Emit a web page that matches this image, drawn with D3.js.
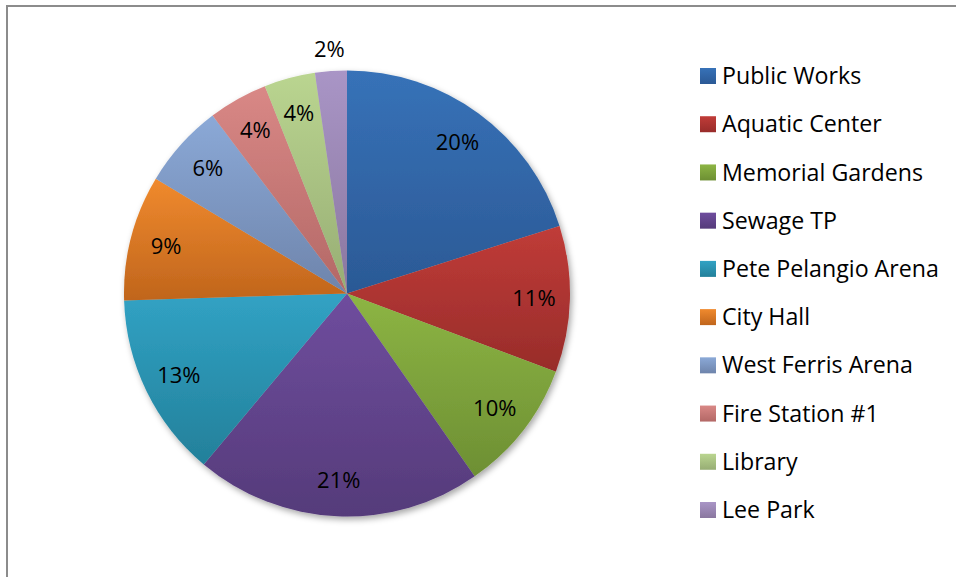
<!DOCTYPE html>
<html>
<head>
<meta charset="utf-8">
<script src="https://cdn.jsdelivr.net/npm/d3@7"></script>
<style>
  html, body { margin: 0; padding: 0; background: #fff; }
  svg { display: block; }
  text { font-family: "Open Sans", "Noto Sans", sans-serif; fill: #000; }
</style>
</head>
<body>
<svg id="chart" width="956" height="577"></svg>
<script>
// ---- data ----
const categories = ["Public Works", "Aquatic Center", "Memorial Gardens", "Sewage TP",
  "Pete Pelangio Arena", "City Hall", "West Ferris Arena", "Fire Station #1", "Library", "Lee Park"];
const shares = [20.1, 10.6, 9.6, 20.8, 13.4, 9.1, 6.1, 4.3, 3.7, 2.3];
const topColors = ["#3772b8", "#c03c38", "#8db544", "#6f4d9e", "#31a2c4",
  "#f08a2e", "#8ba9d7", "#d98886", "#bad590", "#a995c6"];
const bottomColors = ["#2b5995", "#982c2a", "#6d8f33", "#553b7a", "#23809a",
  "#c0651c", "#6e84ab", "#b36866", "#97ad74", "#8a779f"];

// ---- layout ----
const W = 956, H = 577;
const cx = 347, cy = 293.5, R = 223;
const svg = d3.select("#chart");

// frame
svg.append("rect").attr("x", 7).attr("y", 6).attr("width", W + 20).attr("height", H + 20)
  .attr("fill", "none").attr("stroke", "#8c8c8c").attr("stroke-width", 2);

const defs = svg.append("defs");
const f = defs.append("filter").attr("id", "shadow")
  .attr("x", "-10%").attr("y", "-10%").attr("width", "120%").attr("height", "120%");
f.append("feDropShadow").attr("dx", 2).attr("dy", 3).attr("stdDeviation", 3)
  .attr("flood-color", "#000").attr("flood-opacity", 0.35);

categories.forEach((c, i) => {
  const g = defs.append("linearGradient").attr("id", "grad" + i)
    .attr("x1", 0).attr("y1", 0).attr("x2", 0).attr("y2", 1);
  g.append("stop").attr("offset", "0%").attr("stop-color", topColors[i]);
  g.append("stop").attr("offset", "100%").attr("stop-color", bottomColors[i]);
});

const data = categories.map((c, i) => ({ name: c, value: shares[i], i }));
const total = d3.sum(shares);
const pie = d3.pie().value(d => d.value).sort(null);
const arcs = pie(data);
const arc = d3.arc().innerRadius(0).outerRadius(R);

const gPie = svg.append("g").attr("transform", `translate(${cx},${cy})`);
gPie.append("g").attr("filter", "url(#shadow)")
  .selectAll("path").data(arcs).join("path")
  .attr("d", arc)
  .attr("fill", d => `url(#grad${d.data.i})`);

const fmt = d3.format(".0%");
const labelInner = d3.arc().innerRadius(187).outerRadius(187);
const labelOuter = d3.arc().innerRadius(R + 22).outerRadius(R + 22);
gPie.append("g").selectAll("text").data(arcs).join("text")
  .attr("transform", d => {
    const frac = d.data.value / total;
    const p = (frac < 0.03 ? labelOuter : labelInner).centroid(d);
    return `translate(${p[0]},${p[1]})`;
  })
  .attr("text-anchor", "middle")
  .attr("dy", "0.35em")
  .attr("font-size", 22)
  .text(d => fmt(d.data.value / total));

// legend
const legendY = d3.scalePoint().domain(categories).range([76, 510]);
const lg = svg.append("g");
const items = lg.selectAll("g").data(data).join("g")
  .attr("transform", d => `translate(700,${legendY(d.name)})`);
items.append("rect").attr("x", 0).attr("y", -8).attr("width", 16).attr("height", 16)
  .attr("fill", d => `url(#grad${d.i})`);
items.append("text").attr("x", 22).attr("dy", "0.35em").attr("font-size", 23.2)
  .text(d => d.name);
</script>
</body>
</html>
